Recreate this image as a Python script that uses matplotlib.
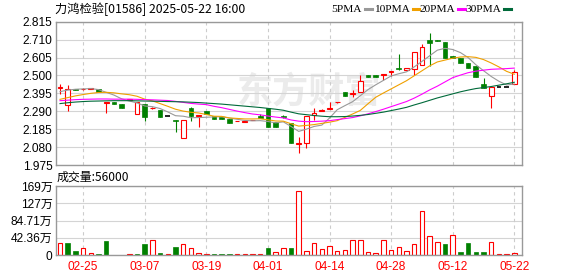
import matplotlib
matplotlib.use('Agg')
import matplotlib.pyplot as plt
from matplotlib.lines import Line2D
import numpy as np

plt.rcParams['font.family'] = ['Liberation Sans', 'Noto Sans CJK SC']

title = '力鸿检验[01586] 2025-05-22 16:00'
date_labels = ['02-25', '03-07', '03-19', '04-01', '04-14', '04-28', '05-12', '05-22']
date_idx = [3, 11, 19, 27, 35, 43, 51, 59]

opens = [2.428, 2.325, 2.419, 2.418, 2.421, 2.418, 2.337, 2.346, 2.334, 2.357,
         2.272, 2.330, 2.307, 2.298, 2.260, 2.236, 2.131, 2.312, 2.262, 2.291,
         2.260, 2.258, 2.242, 2.230, 2.229, 2.236, 2.264, 2.309, 2.228, 2.260,
         2.223, 2.101, 2.102, 2.266, 2.291, 2.305, 2.343, 2.401, 2.393, 2.404,
         2.503, 2.501, 2.505, 2.521, 2.543, 2.532, 2.536, 2.561, 2.708, 2.708,
         2.694, 2.614, 2.604, 2.575, 2.555, 2.450, 2.381, 2.434, 2.434, 2.448]
highs = [2.450, 2.444, 2.420, 2.425, 2.426, 2.418, 2.342, 2.346, 2.334, 2.363,
         2.344, 2.330, 2.316, 2.298, 2.260, 2.237, 2.238, 2.317, 2.266, 2.291,
         2.260, 2.258, 2.242, 2.232, 2.233, 2.239, 2.272, 2.309, 2.228, 2.266,
         2.223, 2.137, 2.260, 2.311, 2.303, 2.346, 2.347, 2.401, 2.416, 2.502,
         2.503, 2.501, 2.509, 2.525, 2.624, 2.545, 2.636, 2.684, 2.750, 2.708,
         2.694, 2.614, 2.604, 2.575, 2.555, 2.483, 2.434, 2.434, 2.434, 2.532]
lows = [2.391, 2.293, 2.416, 2.416, 2.419, 2.402, 2.281, 2.334, 2.311, 2.357,
        2.272, 2.234, 2.305, 2.258, 2.260, 2.170, 2.131, 2.234, 2.199, 2.272,
        2.246, 2.244, 2.222, 2.230, 2.229, 2.236, 2.249, 2.196, 2.199, 2.250,
        2.102, 2.047, 2.072, 2.238, 2.289, 2.305, 2.336, 2.381, 2.376, 2.404,
        2.489, 2.490, 2.473, 2.498, 2.533, 2.532, 2.502, 2.561, 2.557, 2.700,
        2.600, 2.604, 2.575, 2.545, 2.493, 2.424, 2.311, 2.434, 2.434, 2.448]
closes = [2.432, 2.418, 2.417, 2.422, 2.424, 2.402, 2.342, 2.334, 2.311, 2.363,
          2.344, 2.254, 2.312, 2.258, 2.260, 2.235, 2.238, 2.264, 2.266, 2.272,
          2.246, 2.244, 2.222, 2.232, 2.233, 2.239, 2.249, 2.196, 2.199, 2.258,
          2.102, 2.105, 2.260, 2.282, 2.295, 2.309, 2.347, 2.381, 2.397, 2.470,
          2.489, 2.490, 2.509, 2.525, 2.535, 2.545, 2.636, 2.667, 2.690, 2.700,
          2.600, 2.604, 2.575, 2.545, 2.493, 2.424, 2.434, 2.434, 2.434, 2.522]
# volume in 万股
volumes = [29.5, 29.5, 9.8, 16.4, 4.9, 2.5, 34.4, 0.3, 0.3, 2.5,
           2.5, 27.0, 36.0, 4.9, 2.0, 19.6, 26.2, 16.4, 4.9, 2.0,
           2.0, 2.0, 2.0, 2.0, 2.0, 2.0, 2.0, 17.2, 7.4, 17.2,
           17.2, 156.3, 9.0, 28.6, 13.9, 21.3, 9.0, 11.5, 36.0, 36.0,
           6.5, 4.1, 36.0, 11.5, 18.8, 9.0, 26.2, 108.0, 45.8, 31.1,
           26.2, 48.3, 7.4, 28.6, 7.4, 7.4, 31.1, 1.6, 1.6, 5.6]

ma5 = [2.405, 2.414, 2.419, 2.421, 2.423, 2.417, 2.401, 2.385, 2.363, 2.350,
       2.339, 2.321, 2.317, 2.306, 2.286, 2.264, 2.261, 2.252, 2.253, 2.255,
       2.257, 2.258, 2.250, 2.243, 2.236, 2.234, 2.235, 2.230, 2.222, 2.228,
       2.201, 2.172, 2.185, 2.201, 2.209, 2.250, 2.299, 2.323, 2.346, 2.381,
       2.417, 2.445, 2.471, 2.497, 2.510, 2.521, 2.550, 2.582, 2.615, 2.648,
       2.659, 2.652, 2.634, 2.605, 2.563, 2.528, 2.494, 2.466, 2.444, 2.450]
ma10 = [2.360, 2.370, 2.380, 2.388, 2.395, 2.400, 2.401, 2.398, 2.392, 2.387,
        2.378, 2.361, 2.351, 2.335, 2.319, 2.302, 2.291, 2.284, 2.280, 2.271,
        2.261, 2.260, 2.251, 2.248, 2.245, 2.245, 2.246, 2.240, 2.233, 2.232,
        2.217, 2.203, 2.207, 2.212, 2.219, 2.226, 2.235, 2.254, 2.274, 2.295,
        2.334, 2.372, 2.397, 2.421, 2.445, 2.469, 2.498, 2.527, 2.556, 2.579,
        2.590, 2.601, 2.608, 2.610, 2.606, 2.593, 2.573, 2.550, 2.524, 2.507]
ma20 = [2.352, 2.355, 2.358, 2.360, 2.361, 2.362, 2.362, 2.361, 2.361, 2.361,
        2.360, 2.358, 2.357, 2.355, 2.353, 2.348, 2.342, 2.336, 2.332, 2.329,
        2.319, 2.311, 2.301, 2.291, 2.282, 2.274, 2.269, 2.262, 2.256, 2.251,
        2.239, 2.232, 2.229, 2.230, 2.232, 2.235, 2.241, 2.247, 2.253, 2.263,
        2.275, 2.288, 2.302, 2.317, 2.332, 2.347, 2.367, 2.390, 2.415, 2.437,
        2.462, 2.487, 2.502, 2.516, 2.525, 2.531, 2.536, 2.538, 2.540, 2.543]
ma30 = [2.335, 2.340, 2.344, 2.347, 2.349, 2.350, 2.351, 2.352, 2.352, 2.352,
        2.351, 2.350, 2.349, 2.348, 2.347, 2.346, 2.345, 2.343, 2.341, 2.338,
        2.335, 2.332, 2.328, 2.324, 2.320, 2.316, 2.312, 2.307, 2.302, 2.296,
        2.285, 2.275, 2.270, 2.265, 2.261, 2.258, 2.258, 2.259, 2.262, 2.266,
        2.271, 2.278, 2.285, 2.294, 2.303, 2.313, 2.327, 2.340, 2.354, 2.368,
        2.380, 2.392, 2.404, 2.414, 2.423, 2.429, 2.435, 2.443, 2.451, 2.460]

price_ticks = [1.975, 2.080, 2.185, 2.290, 2.395, 2.500, 2.605, 2.710, 2.815]
vol_ticks = [0, 42.36, 84.71, 127.07, 169.42]
vol_tick_labels = ['0', '42.36万', '84.71万', '127万', '169万']
last_vol = '56000'

RED = '#ff0000'
GREEN = '#008000'
W, H = 578, 276


def fx(px):
    return px / W


def fy(py):
    return 1 - py / H


fig = plt.figure(figsize=(W / 100, H / 100), dpi=100)
ax = fig.add_axes([fx(56), fy(165), 466 / W, 143.3 / H])
axv = fig.add_axes([fx(56), fy(255), 466 / W, 69 / H])

o = np.array(opens)
h = np.array(highs)
l = np.array(lows)
c = np.array(closes)
x = np.arange(len(c))
bw = 0.62

up = c > o
dn = c < o
flat = c == o

# red hollow candles
ax.bar(x[up], c[up] - o[up], bottom=o[up], width=bw, facecolor='white',
       edgecolor=RED, linewidth=0.8, zorder=2)
ax.vlines(x[up], c[up], h[up], color=RED, linewidth=0.8, zorder=2)
ax.vlines(x[up], l[up], o[up], color=RED, linewidth=0.8, zorder=2)
# green filled candles
ax.vlines(x[dn], l[dn], h[dn], color=GREEN, linewidth=0.8, zorder=2)
ax.bar(x[dn], o[dn] - c[dn], bottom=c[dn], width=bw, color=GREEN,
       edgecolor=GREEN, linewidth=0.5, zorder=2)
# doji
ax.hlines(c[flat], x[flat] - bw / 2, x[flat] + bw / 2, color='black', linewidth=1.2, zorder=2)
ax.vlines(x[flat], l[flat], h[flat], color='black', linewidth=0.8, zorder=2)

ma_colors = ['#999999', '#f0a000', '#ff00ff', '#006a3a']
for vals, col in zip([ma5, ma10, ma20, ma30], ma_colors):
    ax.plot(x, vals, color=col, linewidth=0.8, zorder=3)

ax.set_xlim(-0.52, 60.0)
ax.set_ylim(price_ticks[0], price_ticks[-1])
ax.set_yticks(price_ticks)
ax.set_yticklabels(['%.3f' % t for t in price_ticks])
ax.set_xticks(date_idx)
ax.set_xticklabels([])

# volume, coloured by close against previous close
prev = np.concatenate([[o[0]], c[:-1]])
vup = c >= prev
v = np.array(volumes)
axv.bar(x[vup], v[vup], width=0.58, facecolor='white', edgecolor=RED, linewidth=0.8, zorder=2)
axv.bar(x[~vup], v[~vup], width=0.58, color=GREEN, edgecolor=GREEN, linewidth=0.5, zorder=2)
axv.set_xlim(-0.52, 60.0)
axv.set_ylim(0, vol_ticks[-1])
axv.set_yticks(vol_ticks)
axv.set_yticklabels(vol_tick_labels)
axv.set_xticks(date_idx)
axv.set_xticklabels(date_labels, color=RED)

for a in (ax, axv):
    a.grid(axis='y', color='#d4d4d4', linewidth=0.8, linestyle='-')
    for d in date_idx:
        a.axvline(d, color='#cccccc', linewidth=0.8, linestyle=(0, (3, 3)), zorder=1)
    a.set_axisbelow(True)
    for s in a.spines.values():
        s.set_color('#999999')
        s.set_linewidth(1.0)
    a.tick_params(length=0, labelsize=8.6, pad=2.5)
axv.tick_params(axis='x', pad=4.5)

# watermark
ax.text((237 - 56) / 466, 1 - (92 - 21.7) / 143.3, '东方财富',
        transform=ax.transAxes, fontsize=26, fontweight='bold', color='#ebebeb',
        family=['Noto Sans CJK SC'], ha='left', va='center', zorder=0.5)

fig.text(fx(55), fy(9), title, fontsize=8.8, family=['Noto Sans CJK SC'], va='center', ha='left')
fig.text(fx(57), fy(177), '成交量:' + last_vol, fontsize=8.6, family=['Noto Sans CJK SC'],
         va='center', ha='left')

# legend
leg_names = ['5PMA', '10PMA', '20PMA', '30PMA']
leg_right = [362, 409.7, 455.3, 501]
for name, r, col in zip(leg_names, leg_right, ma_colors):
    fig.text(fx(r), fy(9), name, fontsize=8.2, family=['Liberation Serif'], va='center', ha='right')
    fig.add_artist(Line2D([fx(r + 3), fx(r + 9.5)], [fy(9), fy(9)], color=col, linewidth=2.2,
                          transform=fig.transFigure))

fig.savefig('out.png', dpi=100)
